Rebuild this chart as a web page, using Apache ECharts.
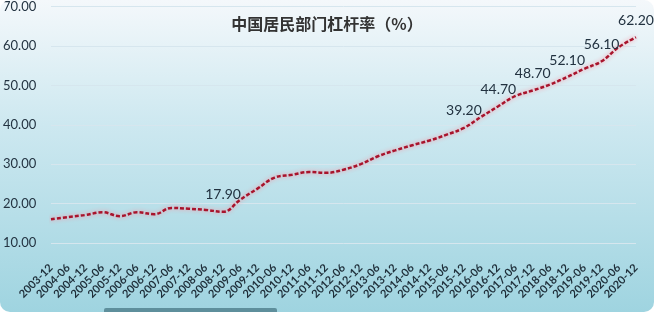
<!DOCTYPE html>
<html>
<head>
<meta charset="utf-8">
<script src="https://cdn.jsdelivr.net/npm/echarts@6/dist/echarts.min.js"></script>
<style>
html,body{margin:0;padding:0;background:#ffffff;}
#c{width:654px;height:312px;border-radius:10px;overflow:hidden;}
</style>
</head>
<body>
<div id="c"></div>
<script>
const categories = ['2003-12','2004-06','2004-12','2005-06','2005-12','2006-06','2006-12','2007-06','2007-12','2008-06','2008-12','2009-06','2009-12','2010-06','2010-12','2011-06','2011-12','2012-06','2012-12','2013-06','2013-12','2014-06','2014-12','2015-06','2015-12','2016-06','2016-12','2017-06','2017-12','2018-06','2018-12','2019-06','2019-12','2020-06','2020-12'];
const leverage = [16.0,16.6,17.1,17.8,16.8,17.8,17.3,18.9,18.7,18.4,17.9,21.0,23.8,26.6,27.3,28.0,27.8,28.6,30.0,32.0,33.5,34.8,36.0,37.5,39.2,42.0,44.7,47.3,48.7,50.2,52.1,54.2,56.1,59.7,62.2];
const labeledIdx = [10,24,26,28,30,32,34];
const yTicks = {min:10, max:70, interval:10};
const titleText = '中国居民部门杠杆率（%）';

const chart = echarts.init(document.getElementById('c'), null, {renderer:'canvas'});
const seriesData = leverage.map((v,i)=>({value:v, label:{show:labeledIdx.indexOf(i) >= 0}}));
chart.setOption({
  backgroundColor: new echarts.graphic.LinearGradient(0,0,0,1,[
    {offset:0,color:'#f4f8fb'},
    {offset:0.4,color:'#cde8f0'},
    {offset:1,color:'#9fd4e0'}
  ]),
  animation:false,
  title:{
    text:titleText, left:'center', top:11,
    textStyle:{fontFamily:'Noto Sans CJK SC', fontSize:16, fontWeight:'bold', color:'#333333'}
  },
  grid:{left:50, right:18, top:6, bottom:69, containLabel:false},
  xAxis:{
    type:'category', data:categories, boundaryGap:false,
    axisLine:{show:false}, axisTick:{show:false},
    axisLabel:{rotate:45, interval:0, margin:23, fontSize:11, fontFamily:'Lato', fontWeight:'bold', color:'#1f2f3a'},
    splitLine:{show:false}
  },
  yAxis:{
    type:'value', min:yTicks.min, max:yTicks.max, interval:yTicks.interval,
    axisLine:{show:false}, axisTick:{show:false},
    axisLabel:{formatter:v=>v.toFixed(2), align:'left', margin:48, fontSize:13, fontFamily:'Lato', color:'#243442'},
    splitLine:{lineStyle:{color:'#d6e6ee', width:1}}
  },
  series:[{
    type:'line', data:seriesData, smooth:0.4, symbol:'circle', symbolSize:2, showSymbol:true,
    itemStyle:{color:'rgba(180,22,46,0)', borderWidth:0},
    lineStyle:{color:'#a8142c', width:2.5, type:[4,2], shadowColor:'rgba(255,140,155,0.95)', shadowBlur:4},
    label:{show:true, position:'top', distance:9, fontSize:14, fontFamily:'Lato', color:'#223240', formatter:p=>Number(p.value).toFixed(2)},
    labelLayout:{hideOverlap:false},
    z:3
  }],
  graphic:[{type:'rect', shape:{x:104, y:308, width:173, height:6, r:2}, style:{fill:'#5e8f9c'}, silent:true}]
});
</script>
</body>
</html>
